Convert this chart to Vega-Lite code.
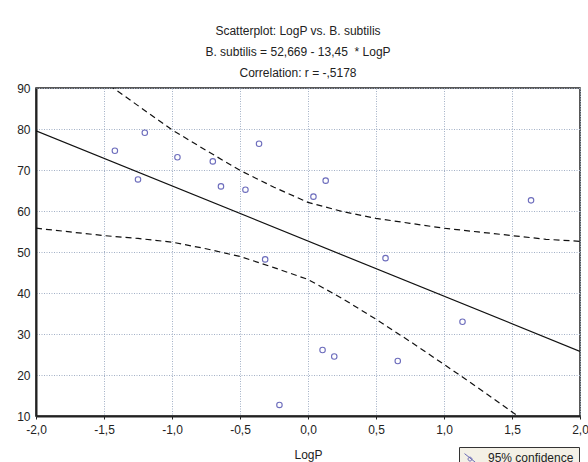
{
  "$schema": "https://vega.github.io/schema/vega-lite/v6.json",
  "autosize": "none",
  "width": 544,
  "height": 328,
  "padding": {"left": 36, "top": 88, "right": 8, "bottom": 46},
  "background": "white",
  "config": {
    "font": "Liberation Sans",
    "view": {"stroke": "#222", "strokeWidth": 1.5},
    "axis": {
      "labelFont": "Liberation Sans",
      "labelFontSize": 12,
      "labelColor": "#222",
      "titleFont": "Liberation Sans",
      "titleFontSize": 12,
      "titleFontWeight": "normal",
      "titleColor": "#222",
      "gridColor": "#a3b0c6",
      "gridDash": [1, 1.5],
      "gridWidth": 1,
      "domainColor": "#222",
      "domainWidth": 2,
      "tickColor": "#222"
    }
  },
  "title": {
    "text": ["Scatterplot: LogP vs. B. subtilis", "B. subtilis = 52,669 - 13,45 \u00a0* LogP", "Correlation: r = -,5178"],
    "font": "Liberation Sans",
    "fontSize": 12,
    "fontWeight": "normal",
    "color": "#222",
    "lineHeight": 21,
    "anchor": "middle",
    "dx": -10,
    "offset": 2
  },
  "datasets": {
    "points": [
      {"LogP": -1.42, "BS": 74.7, "series": "95% confidence"},
      {"LogP": -1.20, "BS": 79.1, "series": "95% confidence"},
      {"LogP": -1.25, "BS": 67.7, "series": "95% confidence"},
      {"LogP": -0.96, "BS": 73.1, "series": "95% confidence"},
      {"LogP": -0.70, "BS": 72.1, "series": "95% confidence"},
      {"LogP": -0.36, "BS": 76.4, "series": "95% confidence"},
      {"LogP": -0.64, "BS": 66.0, "series": "95% confidence"},
      {"LogP": -0.46, "BS": 65.2, "series": "95% confidence"},
      {"LogP": 0.13, "BS": 67.4, "series": "95% confidence"},
      {"LogP": 0.04, "BS": 63.5, "series": "95% confidence"},
      {"LogP": -0.315, "BS": 48.2, "series": "95% confidence"},
      {"LogP": 0.57, "BS": 48.5, "series": "95% confidence"},
      {"LogP": 1.64, "BS": 62.6, "series": "95% confidence"},
      {"LogP": 0.107, "BS": 26.1, "series": "95% confidence"},
      {"LogP": 0.193, "BS": 24.5, "series": "95% confidence"},
      {"LogP": -0.21, "BS": 12.7, "series": "95% confidence"},
      {"LogP": 0.66, "BS": 23.4, "series": "95% confidence"},
      {"LogP": 1.136, "BS": 33.0, "series": "95% confidence"}
    ],
    "fit": [
      {"LogP": -2.0, "BS": 79.57},
      {"LogP": 2.0, "BS": 25.77}
    ],
    "upper": [
      {"LogP": -2.0, "BS": 103.4},
      {"LogP": -1.75, "BS": 97.5},
      {"LogP": -1.5, "BS": 91.6},
      {"LogP": -1.25, "BS": 85.7},
      {"LogP": -1.0, "BS": 79.8},
      {"LogP": -0.75, "BS": 74.8},
      {"LogP": -0.5, "BS": 69.9},
      {"LogP": -0.25, "BS": 65.8},
      {"LogP": 0.0, "BS": 62.1},
      {"LogP": 0.25, "BS": 59.9},
      {"LogP": 0.5, "BS": 58.2},
      {"LogP": 0.75, "BS": 57.0},
      {"LogP": 1.0, "BS": 55.8},
      {"LogP": 1.25, "BS": 54.9},
      {"LogP": 1.5, "BS": 54.0},
      {"LogP": 1.75, "BS": 53.1},
      {"LogP": 2.0, "BS": 52.6}
    ],
    "lower": [
      {"LogP": -2.0, "BS": 55.8},
      {"LogP": -1.75, "BS": 54.9},
      {"LogP": -1.5, "BS": 54.0},
      {"LogP": -1.25, "BS": 53.3},
      {"LogP": -1.0, "BS": 52.4},
      {"LogP": -0.75, "BS": 50.8},
      {"LogP": -0.5, "BS": 48.9},
      {"LogP": -0.25, "BS": 46.2},
      {"LogP": 0.0, "BS": 43.3},
      {"LogP": 0.25, "BS": 38.7},
      {"LogP": 0.5, "BS": 33.6},
      {"LogP": 0.75, "BS": 28.2},
      {"LogP": 1.0, "BS": 22.6},
      {"LogP": 1.25, "BS": 16.9},
      {"LogP": 1.5, "BS": 11.0},
      {"LogP": 1.75, "BS": 5.1},
      {"LogP": 2.0, "BS": -1.0}
    ]
  },
  "encoding": {
    "x": {
      "field": "LogP", "type": "quantitative",
      "scale": {"domain": [-2, 2], "nice": false, "zero": false},
      "axis": {
        "title": "LogP",
        "values": [-2, -1.5, -1, -0.5, 0, 0.5, 1, 1.5, 2],
        "labelExpr": "replace(replace(format(datum.value, '.1f'), '.', ','), '\u2212', '-')",
        "tickSize": 3,
        "labelPadding": 5,
        "titlePadding": 14,
        "labelFlush": false
      }
    },
    "y": {
      "field": "BS", "type": "quantitative",
      "scale": {"domain": [10, 90], "nice": false, "zero": false},
      "axis": {
        "title": null,
        "values": [10, 20, 30, 40, 50, 60, 70, 80, 90],
        "ticks": false,
        "labelPadding": 6,
        "labelFlush": false
      }
    }
  },
  "layer": [
    {
      "data": {"name": "upper"},
      "mark": {"type": "line", "clip": true, "color": "#111", "strokeWidth": 1.2, "strokeDash": [6, 4]}
    },
    {
      "data": {"name": "lower"},
      "mark": {"type": "line", "clip": true, "color": "#111", "strokeWidth": 1.2, "strokeDash": [6, 4]}
    },
    {
      "data": {"name": "fit"},
      "mark": {"type": "line", "clip": true, "color": "#111", "strokeWidth": 1.2}
    },
    {
      "data": {"name": "points"},
      "mark": {"type": "point", "filled": false, "size": 30, "strokeWidth": 1.1},
      "encoding": {
        "color": {
          "field": "series", "type": "nominal",
          "scale": {"range": ["#2e2ea0"]},
          "legend": {
            "title": null,
            "orient": "none",
            "legendX": 423,
            "legendY": 359,
            "fillColor": "#f3f0e6",
            "strokeColor": "#333",
            "padding": 5,
            "labelFont": "Liberation Sans",
            "labelFontSize": 12,
            "labelColor": "#222",
            "labelOffset": 12,
            "symbolType": "M -1 -0.8 L 1 0.8 M 0.35 0.2 A 0.35 0.35 0 1 1 -0.35 0.2 A 0.35 0.35 0 1 1 0.35 0.2",
            "symbolSize": 120,
            "symbolStrokeWidth": 1
          }
        }
      }
    }
  ]
}
